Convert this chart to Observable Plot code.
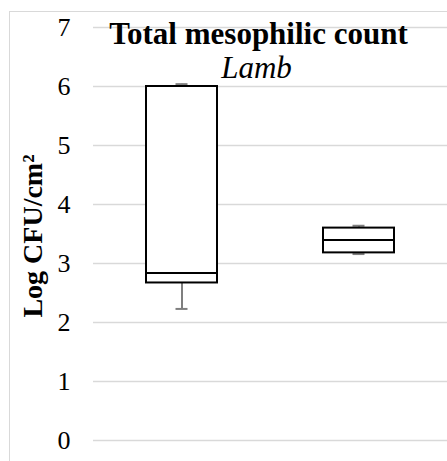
<!DOCTYPE html>
<html>
<head>
<meta charset="utf-8">
<script src="https://cdn.jsdelivr.net/npm/d3@7"></script>
<script src="https://cdn.jsdelivr.net/npm/@observablehq/plot@0.6"></script>
<style>
  html, body { margin: 0; padding: 0; background: #fff; }
  #wrap { position: relative; width: 447px; height: 461px; overflow: hidden; background: #fff; }
  #border { position: absolute; left: 9px; top: 11px; width: 460px; height: 470px; border: 1.5px solid #d9d9d9; box-sizing: border-box; }
  #chart { position: absolute; left: 0; top: 0; }
</style>
</head>
<body>
<div id="wrap"><div id="border"></div><div id="chart"></div></div>
<script>
// Data
const categories = ["Sample A", "Sample B"];
const whiskerLow = [2.23, 3.16];
const q1 = [2.67, 3.18];
const median = [2.84, 3.40];
const q3 = [6.00, 3.60];
const whiskerHigh = [6.04, 3.64];
const yTicks = [0, 1, 2, 3, 4, 5, 6, 7];
const titleText = "Total mesophilic count";
const subtitleText = "Lamb";
const yLabel = "Log CFU/cm²";

const rows = categories.map((c, i) => ({
  cat: c, lo: whiskerLow[i], q1: q1[i], med: median[i], q3: q3[i], hi: whiskerHigh[i]
}));

const W = 447, H = 461;
const boxInset = 53;
const capInset = 82.5;
const whiskerColor = "#7f7f7f";
const serif = "'Liberation Serif', 'Times New Roman', serif";

const plot = Plot.plot({
  width: W,
  height: H,
  marginLeft: 93,
  marginRight: 0,
  marginTop: 27,
  marginBottom: 21,
  style: { fontFamily: serif, background: "transparent", overflow: "visible" },
  x: { type: "band", domain: categories, padding: 0, axis: null },
  y: { domain: [0, 7], ticks: yTicks, label: null },
  marks: [
    Plot.gridY(yTicks, { stroke: "#d9d9d9", strokeOpacity: 1, strokeWidth: 1.5 }),
    Plot.axisY(yTicks, { tickSize: 0, tickPadding: 23, fontSize: 26, fontFamily: serif, fill: "#000", tickFormat: d => String(d), label: null }),
    // whiskers
    Plot.ruleX(rows, { x: "cat", y1: "lo", y2: "q1", stroke: whiskerColor, strokeWidth: 2 }),
    Plot.ruleX(rows, { x: "cat", y1: "q3", y2: "hi", stroke: whiskerColor, strokeWidth: 2 }),
    Plot.tickY(rows, { x: "cat", y: "lo", stroke: whiskerColor, strokeWidth: 2, insetLeft: capInset, insetRight: capInset }),
    Plot.tickY(rows, { x: "cat", y: "hi", stroke: whiskerColor, strokeWidth: 2, insetLeft: capInset, insetRight: capInset }),
    // boxes
    Plot.barY(rows, { x: "cat", y1: "q1", y2: "q3", fill: "#fff", stroke: "#000", strokeWidth: 2, insetLeft: boxInset, insetRight: boxInset }),
    Plot.tickY(rows, { x: "cat", y: "med", stroke: "#000", strokeWidth: 2, insetLeft: boxInset, insetRight: boxInset }),
    // titles
    Plot.text([titleText], { frameAnchor: "top", text: d => d, textAnchor: "middle", dx: -12, dy: 16, lineAnchor: "bottom", fontSize: 31, fontWeight: "bold", fontFamily: serif, fill: "#000" }),
    Plot.text([subtitleText], { frameAnchor: "top", text: d => d, textAnchor: "middle", dx: -14, dy: 50, lineAnchor: "bottom", fontSize: 31, fontStyle: "italic", fontFamily: serif, fill: "#000" }),
    Plot.text([yLabel], { frameAnchor: "left", text: d => d, textAnchor: "middle", dx: -60, dy: 2, rotate: -90, lineAnchor: "middle", fontSize: 28, fontWeight: "bold", fontFamily: serif, fill: "#000" })
  ]
});
document.getElementById("chart").appendChild(plot);
</script>
</body>
</html>
